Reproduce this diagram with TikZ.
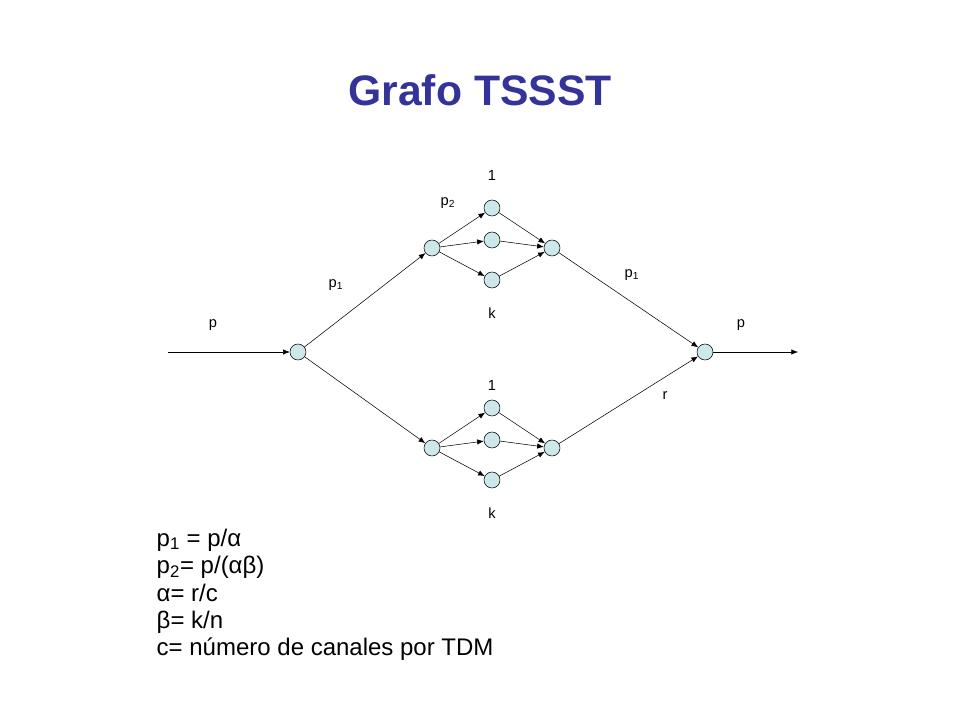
\documentclass[tikz,border=0pt]{standalone}
\usepackage{fontspec}
\setmainfont{Liberation Sans}
\usetikzlibrary{arrows.meta}
\definecolor{nodefill}{HTML}{CCE8EA}
\definecolor{titleblue}{HTML}{333399}
\tikzset{
  st/.style={circle,draw,fill=nodefill,minimum size=12pt,inner sep=0pt},
  lbl/.style={font=\fontsize{11}{12}\selectfont},
  arr/.style={-{Latex[length=5pt,width=4pt]}}
}
\begin{document}
\begin{tikzpicture}[x=0.75pt,y=-0.75pt]
  \useasboundingbox (0,0) rectangle (960,720);
  \node[font=\fontsize{32}{36}\selectfont\bfseries,text=titleblue] (title) at (480,90) {Grafo TSSST};
  % nodos
  \node[st] (s) at (298,352) {};
  \node[st] (t) at (705,352) {};
  \node[st] (ua) at (432,248) {};
  \node[st] (u1) at (492,208) {};
  \node[st] (u2) at (492,240) {};
  \node[st] (u3) at (492,280) {};
  \node[st] (ub) at (552,248) {};
  \node[st] (la) at (432,448) {};
  \node[st] (l1) at (492,408) {};
  \node[st] (l2) at (492,440) {};
  \node[st] (l3) at (492,480) {};
  \node[st] (lb) at (552,448) {};
  \coordinate (in) at (168,352);
  \coordinate (out) at (798,352);
  % arcos
  \draw[arr] (in) -- (s);
  \draw[arr] (t) -- (out);
  \draw[arr] (s) -- (ua);
  \draw[arr] (s) -- (la);
  \foreach \n in {1,2,3}{
    \draw[arr] (ua) -- (u\n);
    \draw[arr] (u\n) -- (ub);
    \draw[arr] (la) -- (l\n);
    \draw[arr] (l\n) -- (lb);
  }
  \draw[arr] (ub) -- (t);
  \draw[arr] (lb) -- (t);
  % etiquetas
  \node[lbl] (n1u) at (492,175) {1};
  \node[lbl] (p2) at (448,203) {p\textsubscript{2}};
  \node[lbl] (p1l) at (336,285) {p\textsubscript{1}};
  \node[lbl] (pin) at (213,325) {p};
  \node[lbl] (ku) at (492,313) {k};
  \node[lbl] (p1r) at (632,275) {p\textsubscript{1}};
  \node[lbl] (pout) at (741,325) {p};
  \node[lbl] (n1l) at (492,385) {1};
  \node[lbl] (r) at (665,396) {r};
  \node[lbl] (kl) at (492,513) {k};
  % formulas
  \node[anchor=north west,align=left,font=\fontsize{18}{20.6}\selectfont] (form) at (152,524)
    {p\textsubscript{1} = p/α\\p\textsubscript{2}= p/(αβ)\\α= r/c\\β= k/n\\c= número de canales por TDM};
\end{tikzpicture}
\end{document}
